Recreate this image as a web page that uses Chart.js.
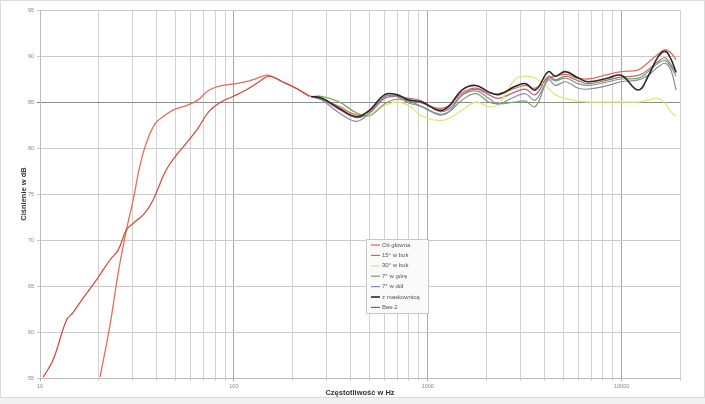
<!DOCTYPE html>
<html><head><meta charset="utf-8">
<script src="https://cdn.jsdelivr.net/npm/chart.js@4.4.1/dist/chart.umd.min.js"></script>
<style>html,body{margin:0;padding:0;background:#fff;}#wrap{width:705px;height:404px;position:relative;}</style>
</head><body><div id="wrap"><canvas id="c" width="705" height="404"></canvas></div>
<script>
// ---- data ----
const FREQ_BASS2 = [10.4, 11.7, 13.7, 14.8, 16.7, 19.6, 22.9, 25.3, 27.9, 30.2, 34.6, 38.2, 44.7, 50.4, 56.8, 65.1, 74.6, 85.8, 98.6, 115.5, 135, 152, 178, 209, 245];
const BASS2 = [55.1, 57.0, 61.3, 62.1, 63.7, 65.7, 67.8, 68.9, 71.1, 71.8, 72.9, 74.3, 77.6, 79.2, 80.5, 82.1, 84.0, 85.0, 85.6, 86.3, 87.2, 87.8, 87.2, 86.5, 85.6];
const FREQ_LOW = [20.4, 22.9, 25.3, 27.9, 30.2, 32.7, 35.3, 39.1, 43.1, 49.4, 56.8, 65.1, 74.6, 87.5, 102.5, 120, 140.8, 152, 178, 209];
const MAIN_LOW = [55.1, 60.6, 66.4, 71.1, 74.3, 78.0, 80.5, 82.6, 83.4, 84.2, 84.6, 85.2, 86.3, 86.8, 87.0, 87.3, 87.8, 87.9, 87.2, 86.5];
const FREQ_HI = [250, 285, 350, 430, 500, 600, 690, 800, 930, 1140, 1280, 1500, 1770, 2060, 2320, 2830, 3190, 3590, 4190, 4550, 5130, 5980, 6730, 8530, 9940, 12200, 13700, 15400, 16800, 18000, 19100];
const MAIN_HI = [85.6, 85.3, 84.5, 83.6, 84.0, 85.6, 85.7, 85.3, 84.9, 84.3, 84.6, 86.0, 86.5, 86.0, 85.9, 86.5, 86.8, 86.5, 87.6, 87.8, 88.0, 87.6, 87.5, 88.0, 88.3, 88.5, 89.3, 90.2, 90.7, 90.3, 89.6];
const SIDE15 = [85.6, 85.3, 84.2, 83.3, 83.8, 85.4, 85.6, 85.4, 85.1, 84.0, 84.2, 85.8, 86.4, 85.8, 85.4, 86.1, 86.4, 85.8, 87.8, 87.4, 87.8, 87.3, 87.0, 87.4, 87.7, 87.9, 88.5, 89.4, 89.8, 89.0, 88.3];
const SIDE30 = [85.6, 85.6, 85.0, 83.8, 83.7, 84.6, 85.0, 84.6, 83.5, 83.0, 83.2, 84.1, 85.0, 84.5, 84.8, 87.5, 87.8, 87.6, 86.5, 85.8, 85.4, 85.1, 85.0, 85.0, 85.0, 85.0, 85.2, 85.4, 84.8, 83.9, 83.5];
const UP7 = [85.6, 85.6, 85.0, 83.8, 83.5, 84.8, 85.3, 85.1, 84.5, 83.7, 83.9, 85.2, 85.9, 85.0, 84.8, 85.0, 85.1, 84.5, 87.6, 87.3, 87.6, 87.0, 86.8, 87.2, 87.5, 87.6, 88.3, 89.2, 89.5, 88.8, 87.8];
const DOWN7 = [85.6, 85.2, 83.8, 82.9, 83.8, 85.6, 85.6, 84.9, 84.5, 83.6, 83.9, 85.7, 86.2, 85.4, 84.8, 85.6, 85.9, 85.2, 87.4, 86.8, 87.2, 86.5, 86.4, 86.8, 87.2, 87.4, 87.9, 88.8, 89.2, 88.4, 86.3];
const GRILLE = [85.6, 85.4, 84.3, 83.4, 84.1, 85.8, 85.8, 85.2, 85.0, 84.1, 84.5, 86.3, 86.8, 86.1, 85.8, 86.7, 87.0, 86.3, 88.3, 87.8, 88.3, 87.6, 87.2, 87.6, 87.9, 86.3, 87.8, 89.9, 90.5, 89.6, 88.2];
const X_TICKS = [10,20,30,40,50,60,70,80,90,100,200,300,400,500,600,700,800,900,1000,2000,3000,4000,5000,6000,7000,8000,9000,10000,20000];
const X_LABELS = [10, 100, 1000, 10000];
const Y_TICKS = [55, 60, 65, 70, 75, 80, 85, 90, 95];
const LABELS = ["Oś główna", "15° w bok", "30° w bok", "7° w górę", "7° w dół", "z maskownicą", "Bas-2"];
// ---------------

const pts = (fs, vs) => fs.map((f, i) => ({x: f, y: vs[i]}));
const mk = (label, data, color, w) => ({label, data, borderColor: color, backgroundColor: color, borderWidth: w, pointRadius: 0, tension: 0.4, fill: false});

const datasets = [
  mk(LABELS[0], pts(FREQ_LOW.concat(FREQ_HI), MAIN_LOW.concat(MAIN_HI)), '#e0705a', 1.3),
  mk(LABELS[1], pts(FREQ_HI, SIDE15), '#b06a78', 1.2),
  mk(LABELS[2], pts(FREQ_HI, SIDE30), '#e6e67a', 1.3),
  mk(LABELS[3], pts(FREQ_HI, UP7), '#72a46a', 1.2),
  mk(LABELS[4], pts(FREQ_HI, DOWN7), '#8a8aa8', 1.2),
  mk(LABELS[5], pts(FREQ_HI, GRILLE), '#2a2a2a', 1.6),
  mk(LABELS[6], pts(FREQ_BASS2, BASS2), '#cc4a3c', 1.2)
];
datasets.reverse();

const frame = {
  id: 'frame',
  beforeDraw(chart) {
    const c = chart.ctx;
    c.save();
    c.fillStyle = '#ffffff';
    c.fillRect(0, 0, 705, 404);
    c.fillStyle = '#f1f1f1';
    c.fillRect(0, 398, 705, 6);
    c.strokeStyle = '#dcdcdc';
    c.lineWidth = 1;
    c.strokeRect(0.5, 0.5, 704, 397);
    c.restore();
  }
};

const legendBox = {
  id: 'legendBox',
  afterDraw(chart) {
    const c = chart.ctx;
    const x0 = 366, y0 = 239, w = 62, h = 74;
    c.save();
    c.fillStyle = '#fafafa';
    c.fillRect(x0, y0, w, h);
    c.strokeStyle = '#c8c8c8';
    c.lineWidth = 1;
    c.strokeRect(x0 + 0.5, y0 + 0.5, w, h);
    c.font = '6px "Liberation Sans", Arial, sans-serif';
    c.textBaseline = 'middle';
    const ordered = chart.data.datasets.slice().reverse();
    ordered.forEach((ds, i) => {
      const y = 245 + i * 10.4;
      c.strokeStyle = ds.borderColor;
      c.lineWidth = ds.borderWidth;
      c.beginPath(); c.moveTo(371, y); c.lineTo(380, y); c.stroke();
      c.fillStyle = '#555';
      c.fillText(ds.label, 382, y);
    });
    c.restore();
  }
};

new Chart(document.getElementById('c'), {
  type: 'line',
  data: {datasets},
  plugins: [frame, legendBox],
  options: {
    responsive: false,
    animation: false,
    parsing: true,
    layout: {padding: {left: 19, right: 25, top: 10, bottom: 7}},
    plugins: {legend: {display: false}, tooltip: {enabled: false}},
    scales: {
      x: {
        type: 'logarithmic', min: 10, max: 20000,
        afterBuildTicks: s => { s.ticks = X_TICKS.map(v => ({value: v})); },
        afterFit: s => { s.height = 19; },
        ticks: {
          autoSkip: false, maxRotation: 0, padding: 2,
          font: {size: 5.5, family: '"Liberation Sans", Arial, sans-serif'}, color: '#888',
          callback: v => X_LABELS.includes(v) ? String(v) : ''
        },
        grid: {
          color: c => (c.tick && X_LABELS.includes(c.tick.value)) ? '#a8a8a8' : '#d2d2d2',
          lineWidth: 1, drawTicks: true, tickLength: 3
        },
        border: {color: '#bcbcbc'},
        title: {display: true, text: 'Częstotliwość w Hz', color: '#333', padding: {top: 0, bottom: 0},
          font: {size: 7.5, weight: 'bold', family: '"Liberation Sans", Arial, sans-serif'}}
      },
      y: {
        type: 'linear', min: 55, max: 95,
        afterBuildTicks: s => { s.ticks = Y_TICKS.map(v => ({value: v})); },
        afterFit: s => { s.width = 21; },
        ticks: {
          padding: 3,
          font: {size: 5.5, family: '"Liberation Sans", Arial, sans-serif'}, color: '#888'
        },
        grid: {
          color: c => (c.tick && c.tick.value === 85) ? '#8c8c8c' : '#cacaca',
          lineWidth: 1, tickLength: 3
        },
        border: {color: '#bcbcbc'},
        title: {display: true, text: 'Ciśnienie w dB', color: '#333', padding: {top: 0, bottom: 2},
          font: {size: 7.5, weight: 'bold', family: '"Liberation Sans", Arial, sans-serif'}}
      }
    }
  }
});
</script>
</body></html>
